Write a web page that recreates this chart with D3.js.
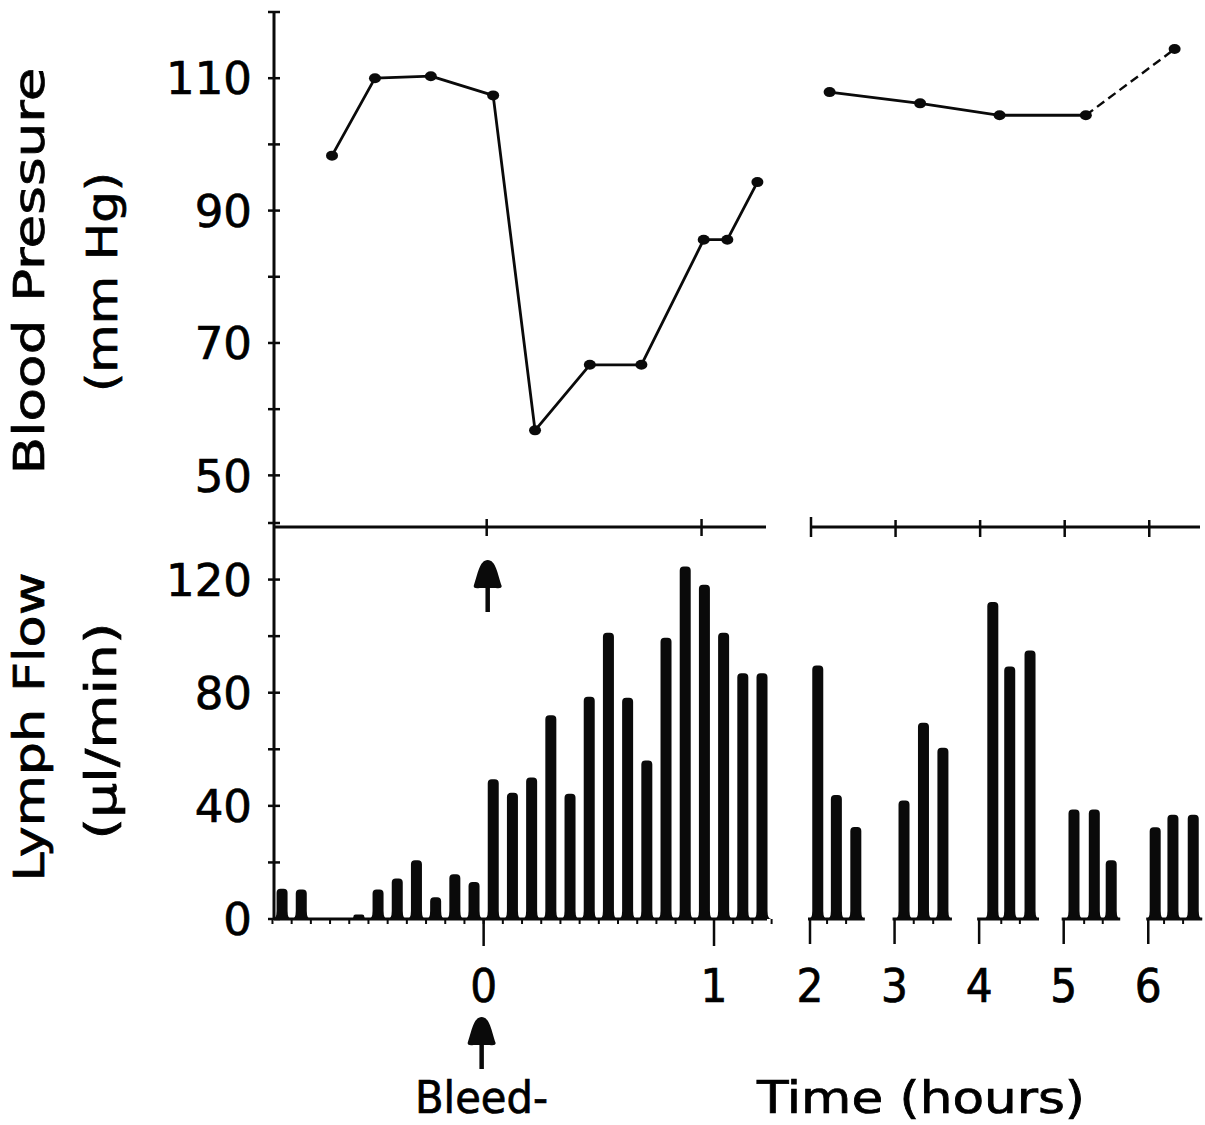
<!DOCTYPE html>
<html>
<head>
<meta charset="utf-8">
<script src="https://cdn.jsdelivr.net/npm/d3@7"></script>
<style>
body { margin: 0; background: #fff; }
text { fill: #000; stroke: #000; stroke-width: 0.7px; }
</style>
</head>
<body>
<div id="chart"></div>
<script>
var width = 1205,
    height = 1125;

// blood pressure (mm Hg), time in hours from the bleed
var bpTimeEarly = [-0.72, -0.52, -0.26, 0.03, 0.225, 0.48, 0.72, 1.01, 1.12, 1.26];
var bpEarly = [98.3, 110, 110.3, 107.4, 56.8, 66.7, 66.7, 85.6, 85.6, 94.3];
var bpTimeLate = [2.22, 3.29, 4.23, 5.25, 6.30];
var bpLate = [107.9, 106.2, 104.4, 104.4, 114.4];

// lymph flow (ul/min), 5 min collections, time in minutes
var flowMinEarly = [-52.5, -47.5, -32.5, -27.5, -22.5, -17.5, -12.5, -7.5, -2.5,
    2.5, 7.5, 12.5, 17.5, 22.5, 27.5, 32.5, 37.5, 42.5, 47.5, 52.5, 57.5, 62.5, 67.5, 72.5];
var flowEarly = [10.7, 10.4, 1.6, 10.4, 14.3, 20.8, 7.7, 15.8, 13.1,
    49.4, 44.6, 50, 72, 44.3, 78.6, 101.2, 78.2, 56, 99.4, 124.6, 118.2, 101.2, 86.9, 86.9];
// later samples, time in hours
var flowTimeLate = [2.08, 2.30, 2.53, 3.10, 3.33, 3.56, 4.15, 4.35, 4.59, 5.11, 5.35, 5.55, 6.07, 6.28, 6.52];
var flowLate = [89.6, 43.8, 32.5, 41.9, 69.4, 60.5, 112.1, 89.3, 94.9, 38.7, 38.7, 20.8, 32.4, 36.9, 36.9];

var bpTicks = [50, 60, 70, 80, 90, 100, 110, 120];
var bpLabels = [50, 70, 90, 110];
var flowTicks = [0, 20, 40, 60, 80, 100, 120, 140];
var flowLabels = [0, 40, 80, 120];
var hourLabelsEarly = [0, 1];
var hourLabelsLate = [2, 3, 4, 5, 6];

var svg = d3.select("#chart").append("svg")
    .attr("width", width)
    .attr("height", height)
    .style("background", "#fff");

var xTopL = d3.scaleLinear().domain([-0.99, 1.3]).range([274, 766]);
var xBotL = d3.scaleLinear().domain([-0.91, 1.23]).range([274, 767]);
var xR = d3.scaleLinear().domain([2, 6.6]).range([811, 1200]);
var yBP = d3.scaleLinear().domain([42.2, 120]).range([527, 12]);
var yFlow = d3.scaleLinear().domain([0, 140]).range([919, 523]);

var ink = "#0a0a0a";
var axisX = 274;

function line(g, x1, y1, x2, y2, w) {
    g.append("line")
        .attr("x1", x1).attr("y1", y1)
        .attr("x2", x2).attr("y2", y2)
        .attr("stroke", ink)
        .attr("stroke-width", w || 3);
}

var axes = svg.append("g");

// y axes
line(axes, axisX, yBP(120), axisX, yFlow(0) + 1);

axes.selectAll(".bptick")
    .data(bpTicks)
    .enter().append("line")
    .attr("x1", axisX - 6).attr("x2", axisX + 6)
    .attr("y1", function(d) { return yBP(d); })
    .attr("y2", function(d) { return yBP(d); })
    .attr("stroke", ink).attr("stroke-width", 2.5);

axes.selectAll(".flowtick")
    .data(flowTicks)
    .enter().append("line")
    .attr("x1", axisX - 6).attr("x2", axisX + 6)
    .attr("y1", function(d) { return yFlow(d); })
    .attr("y2", function(d) { return yFlow(d); })
    .attr("stroke", ink).attr("stroke-width", 2.5);

axes.selectAll(".bplabel")
    .data(bpLabels)
    .enter().append("text")
    .attr("x", 252)
    .attr("y", function(d) { return yBP(d); })
    .attr("dy", "0.36em")
    .attr("text-anchor", "end")
    .style("font-family", "'DejaVu Sans', sans-serif")
    .style("font-size", "45px")
    .text(function(d) { return d; });

axes.selectAll(".flowlabel")
    .data(flowLabels)
    .enter().append("text")
    .attr("x", 252)
    .attr("y", function(d) { return yFlow(d); })
    .attr("dy", "0.36em")
    .attr("text-anchor", "end")
    .style("font-family", "'DejaVu Sans', sans-serif")
    .style("font-size", "45px")
    .text(function(d) { return d; });

// top panel x axis, broken
var yAxisTop = yBP.range()[0];
line(axes, axisX, yAxisTop, xTopL.range()[1], yAxisTop);
line(axes, xR.range()[0], yAxisTop, xR.range()[1], yAxisTop);

axes.selectAll(".toptickL")
    .data(hourLabelsEarly)
    .enter().append("line")
    .attr("x1", function(d) { return xTopL(d); })
    .attr("x2", function(d) { return xTopL(d); })
    .attr("y1", yAxisTop - 8).attr("y2", yAxisTop + 9)
    .attr("stroke", ink).attr("stroke-width", 2.5);

axes.selectAll(".toptickR")
    .data(hourLabelsLate)
    .enter().append("line")
    .attr("x1", function(d) { return xR(d); })
    .attr("x2", function(d) { return xR(d); })
    .attr("y1", function(d) { return d === 2 ? yAxisTop - 10 : yAxisTop - 7; })
    .attr("y2", yAxisTop + 10)
    .attr("stroke", ink).attr("stroke-width", 2.5);

// bottom panel baseline
var base = yFlow(0);
line(axes, axisX, base, xBotL.range()[1], base);

axes.selectAll(".mintick")
    .data(d3.range(-55, 76, 5))
    .enter().append("line")
    .attr("x1", function(d) { return xBotL(d / 60); })
    .attr("x2", function(d) { return xBotL(d / 60); })
    .attr("y1", base).attr("y2", base + 5)
    .attr("stroke", ink).attr("stroke-width", 2);

axes.selectAll(".botmajorL")
    .data(hourLabelsEarly)
    .enter().append("line")
    .attr("x1", function(d) { return xBotL(d); })
    .attr("x2", function(d) { return xBotL(d); })
    .attr("y1", base).attr("y2", base + 27)
    .attr("stroke", ink).attr("stroke-width", 2.5);

axes.selectAll(".botmajorR")
    .data(hourLabelsLate)
    .enter().append("line")
    .attr("x1", function(d) { return xR(d) - 1; })
    .attr("x2", function(d) { return xR(d) - 1; })
    .attr("y1", base).attr("y2", base + 25)
    .attr("stroke", ink).attr("stroke-width", 2.5);

// group baselines for the later collections
var lateGroups = d3.groups(d3.zip(flowTimeLate, flowLate), function(d) { return Math.floor(d[0]); });
lateGroups.forEach(function(g) {
    var hour = g[0], pts = g[1];
    var last = pts[pts.length - 1][0];
    line(axes, xR(hour) - 3, base, xR(last) + 9, base);
    for (var i = 1; i < pts.length; i++) {
        var m = xR((pts[i - 1][0] + pts[i][0]) / 2);
        line(axes, m, base, m, base + 5, 2);
    }
});

var xLabelFont = "'DejaVu Sans Condensed', 'Liberation Sans Narrow', 'DejaVu Sans', sans-serif";

axes.selectAll(".xlabelL")
    .data(hourLabelsEarly)
    .enter().append("text")
    .attr("x", function(d) { return xBotL(d); })
    .attr("y", 1002)
    .attr("text-anchor", "middle")
    .style("font-family", xLabelFont)
    .style("font-size", "47px")
    .text(function(d) { return d; });

axes.selectAll(".xlabelR")
    .data(hourLabelsLate)
    .enter().append("text")
    .attr("x", function(d) { return xR(d) - 1; })
    .attr("y", 1002)
    .attr("text-anchor", "middle")
    .style("font-family", xLabelFont)
    .style("font-size", "47px")
    .text(function(d) { return d; });

// blood pressure lines
var bpLine = d3.line()
    .x(function(d) { return d.x; })
    .y(function(d) { return yBP(d.v); });

var earlyPts = d3.zip(bpTimeEarly, bpEarly).map(function(d) { return {x: xTopL(d[0]), v: d[1]}; });
var latePts = d3.zip(bpTimeLate, bpLate).map(function(d) { return {x: xR(d[0]), v: d[1]}; });

var bp = svg.append("g");

bp.append("path")
    .attr("d", bpLine(earlyPts))
    .attr("fill", "none")
    .attr("stroke", ink)
    .attr("stroke-width", 2.8)
    .attr("stroke-linejoin", "round");

bp.append("path")
    .attr("d", bpLine(latePts.slice(0, 4)))
    .attr("fill", "none")
    .attr("stroke", ink)
    .attr("stroke-width", 2.8);

bp.append("path")
    .attr("d", bpLine(latePts.slice(3)))
    .attr("fill", "none")
    .attr("stroke", ink)
    .attr("stroke-width", 2.4)
    .attr("stroke-dasharray", "9,5");

bp.selectAll(".pt")
    .data(earlyPts.concat(latePts))
    .enter().append("ellipse")
    .attr("cx", function(d) { return d.x; })
    .attr("cy", function(d) { return yBP(d.v); })
    .attr("rx", 6)
    .attr("ry", 5)
    .attr("fill", ink);

// lymph flow bars
var barW = 11;
function barPath(cx, v) {
    var top = yFlow(v), h = base - top;
    var x0 = cx - barW / 2, x1 = cx + barW / 2;
    var r = Math.min(4, h / 2), fl = Math.min(8, h / 2);
    return "M" + (x0 - 4) + "," + base +
        "Q" + x0 + "," + base + " " + x0 + "," + (base - fl) +
        "L" + x0 + "," + (top + r) +
        "Q" + x0 + "," + top + " " + (x0 + r) + "," + top +
        "L" + (x1 - r) + "," + top +
        "Q" + x1 + "," + top + " " + x1 + "," + (top + r) +
        "L" + x1 + "," + (base - fl) +
        "Q" + x1 + "," + base + " " + (x1 + 4) + "," + base + "Z";
}

var bars = svg.append("g");

bars.selectAll(".barL")
    .data(d3.zip(flowMinEarly, flowEarly))
    .enter().append("path")
    .attr("d", function(d) { return barPath(xBotL(d[0] / 60), d[1]); })
    .attr("fill", ink);

bars.selectAll(".barR")
    .data(d3.zip(flowTimeLate, flowLate))
    .enter().append("path")
    .attr("d", function(d) { return barPath(xR(d[0]), d[1]); })
    .attr("fill", ink);

// bleed arrows
function arrow(cx, tip) {
    svg.append("path")
        .attr("d", "M" + cx + "," + tip +
            "C" + (cx + 8) + "," + tip + " " + (cx + 10) + "," + (tip + 14) + " " + (cx + 14) + "," + (tip + 26) +
            "Q" + (cx + 14) + "," + (tip + 29) + " " + (cx + 8) + "," + (tip + 28) +
            "L" + (cx - 8) + "," + (tip + 28) +
            "Q" + (cx - 14) + "," + (tip + 29) + " " + (cx - 14) + "," + (tip + 26) +
            "C" + (cx - 10) + "," + (tip + 14) + " " + (cx - 8) + "," + tip + " " + cx + "," + tip + "Z")
        .attr("fill", ink);
    line(svg, cx, tip + 26, cx, tip + 52, 4.5);
}
arrow(xTopL(0) + 1, 560);
arrow(xBotL(0) - 2, 1017);

// axis titles
var titleFont = "'DejaVu Sans', sans-serif";
function vtitle(txt, x, y, len) {
    svg.append("text")
        .attr("transform", "translate(" + x + "," + y + ") rotate(-90)")
        .attr("text-anchor", "middle")
        .attr("textLength", len)
        .attr("lengthAdjust", "spacingAndGlyphs")
        .style("font-family", titleFont)
        .style("font-size", "42px")
        .text(txt);
}
vtitle("Blood Pressure", 44, 271, 407);
vtitle("(mm Hg)", 117, 282, 220);
vtitle("Lymph Flow", 44, 727, 309);
vtitle("(\u00b5l/min)", 116, 731, 217);

svg.append("text")
    .attr("x", 415).attr("y", 1113)
    .attr("textLength", 133)
    .attr("lengthAdjust", "spacingAndGlyphs")
    .style("font-family", xLabelFont)
    .style("font-size", "45px")
    .text("Bleed-");

svg.append("text")
    .attr("x", 757).attr("y", 1113)
    .attr("textLength", 328)
    .attr("lengthAdjust", "spacingAndGlyphs")
    .style("font-family", xLabelFont)
    .style("font-size", "45px")
    .text("Time (hours)");
</script>
</body>
</html>
